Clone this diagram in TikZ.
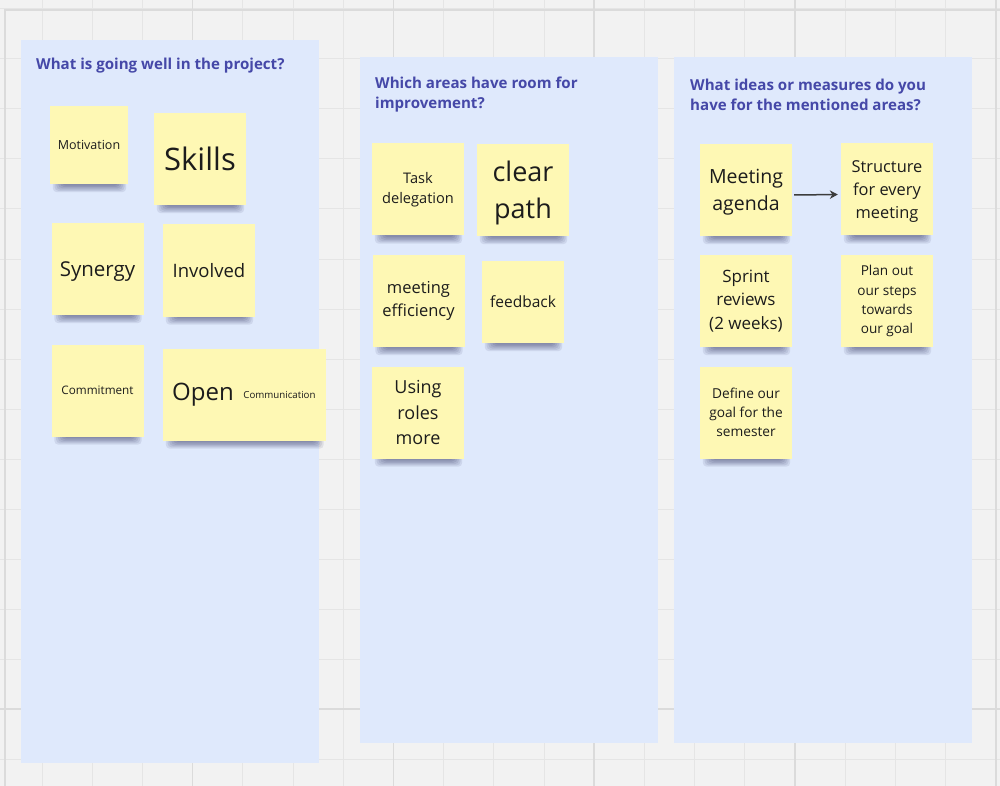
\documentclass[tikz,border=0pt]{standalone}
\usepackage{fontspec}
\setmainfont{Open Sans}
\usetikzlibrary{arrows.meta}
\pgfdeclarelayer{board}
\pgfdeclarelayer{shade}
\pgfsetlayers{board,shade,main}
\definecolor{canvas}{RGB}{242,242,242}
\definecolor{gridln}{RGB}{229,229,229}
\definecolor{gridmj}{RGB}{219,219,219}
\definecolor{colbg}{RGB}{223,233,252}
\definecolor{ttlblue}{RGB}{69,72,168}
\definecolor{sticky}{RGB}{254,248,180}
\definecolor{ink}{RGB}{28,28,28}
\definecolor{arrowgray}{RGB}{60,60,60}
\begin{document}
\begin{tikzpicture}[x=1pt, y=-1pt,
  col/.style={fill=colbg},
  ttl/.style={anchor=west, align=left, inner sep=0pt, text=ttlblue, font=\bfseries\fontsize{15.1}{20}\selectfont},
  note/.style={fill=sticky, minimum width=92pt, minimum height=92pt, inner sep=0pt, align=center, text=ink},
  fs/.style={font=\fontsize{#1}{\fpeval{1.4*#1}}\selectfont},
  sh/.style={fill=black!80!blue, opacity=0.08, rounded corners=4pt},
  e/.style={draw=arrowgray, line width=1.5pt, -{Stealth[length=8pt,width=8.5pt]}}]
\useasboundingbox (0,0) rectangle (1000,786);
\begin{pgfonlayer}{board}
\fill[canvas] (0,0) rectangle (1000,786);
\foreach \i in {-1,...,19}
  \draw[gridln, line width=1pt] ({42+50.2*\i},0) -- ({42+50.2*\i},786);
\foreach \j in {0,...,15}
  \draw[gridln, line width=1pt] (0,{9+50*\j}) -- (1000,{9+50*\j});
\foreach \i in {3,7,11,15,19}
  \draw[gridmj, line width=1.5pt] ({42+50.2*\i},0) -- ({42+50.2*\i},786);
\draw[gridmj, line width=1.5pt] (5,786) -- (5,10) -- (1000,10);
\draw[gridmj, line width=1.5pt] (0,709) -- (1000,709);

\fill[col] (21,40) rectangle (319,763);
\fill[col] (360,57) rectangle (658,743);
\fill[col] (674,57) rectangle (972,743);
\end{pgfonlayer}

\node[ttl] (t1) at (36,65.5) {What is going well in the project?};
\node[ttl] (t2) at (375,94.5) {Which areas have room for\\improvement?};
\node[ttl] (t3) at (690,94.5) {What ideas or measures do you\\have for the mentioned areas?};

\node[note, minimum width=78pt, minimum height=78pt, fs=12.5] (mot) at (89,145) {Motivation};
\node[note, fs=31] (skills) at (200,159) {Skills};
\node[note, fs=20.5, text depth=0pt] (syn) at (97.5,269) {Synergy};
\node[note, fs=18.5] (inv) at (209,270.5) {Involved};
\node[note, fs=11.7] (com) at (97.5,390.5) {Commitment};
\node[note, fs=24] (open) at (209,394.5) {Open\hspace*{12pt}};
\node[note, fs=9.7] (comm) at (279.5,394.5) {Communication};

\node[note, fs=14.6] (task) at (418,189.5) {Task\\delegation};
\node[note, fs=27] (clear) at (523,190) {\rule{0pt}{26.5pt}clear\\path};
\node[note, fs=16.5] (meet) at (418.5,301) {meeting\\efficiency};
\node[note, minimum width=82pt, minimum height=82pt, fs=15.5] (feed) at (523,302) {feedback};
\node[note, fs=18] (roles) at (418,412.5) {Using\\roles\\more};

\node[note, fs=19.5] (agenda) at (746,190) {\rule{0pt}{18.8pt}Meeting\\agenda};
\node[note, fs=16.4] (struct) at (887,189.5) {\rule{0pt}{16pt}Structure\\for every\\meeting};
\node[note, fs=17] (sprint) at (746,301) {Sprint\\reviews\\(2 weeks)};
\node[note, fs=13.6] (plan) at (887,301) {Plan out\\our steps\\towards\\our goal};
\node[note, fs=13.7] (define) at (746,412.5) {Define our\\goal for the\\semester};

\begin{pgfonlayer}{shade}
\foreach \a/\b in {mot/mot,skills/skills,syn/syn,inv/inv,com/com,open/comm,task/task,clear/clear,meet/meet,feed/feed,roles/roles,agenda/agenda,struct/struct,sprint/sprint,plan/plan,define/define}
  \foreach \k in {0,...,5}
    \fill[sh] ([xshift={12pt-1.8pt*\k}, yshift=10pt]\a.south west) rectangle ([xshift={1.6pt*\k-10pt}, yshift={-1.5pt-1.3pt*\k}]\b.south east);
\end{pgfonlayer}

\draw[e, shorten <=2pt, shorten >=3pt] ([yshift=-5pt]agenda.east) -- ([yshift=-5pt]struct.west);
\end{tikzpicture}
\end{document}
